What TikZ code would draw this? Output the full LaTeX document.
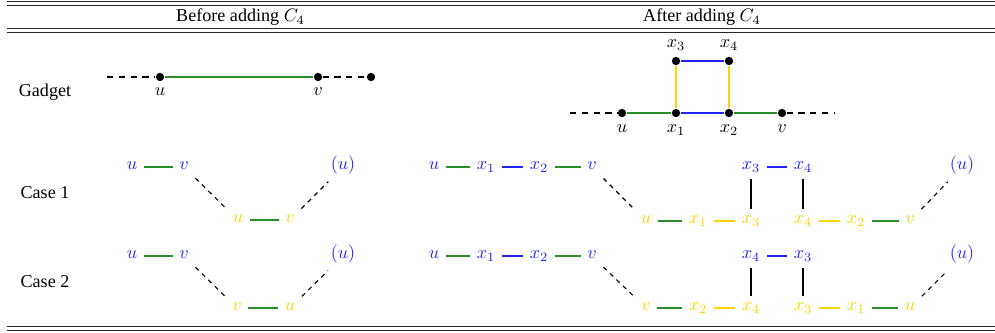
\documentclass[tikz,border=0pt]{standalone}
\usepackage[no-math]{fontspec}
\setmainfont{Liberation Serif}
\definecolor{mygreen}{RGB}{40,140,40}
\definecolor{myblue}{RGB}{35,35,245}
\definecolor{myyellow}{RGB}{255,212,0}
\begin{document}
\begin{tikzpicture}[x=0.5525pt,y=-0.5525pt,
  rule/.style={line width=0.5pt,black!85},
  dot/.style={circle,fill=black,inner sep=0pt,minimum size=4.6pt},
  tn/.style={inner sep=3.5pt,text height=4.4pt,text depth=1.6pt},
  bl/.style={tn,text=myblue},
  yl/.style={tn,text=myyellow},
  txt/.style={anchor=base,inner sep=0pt},
  ge/.style={draw=mygreen,line width=1pt},
  be/.style={draw=myblue,line width=1pt},
  ye/.style={draw=myyellow,line width=1pt},
  ke/.style={draw=black,line width=0.6pt},
  de/.style={draw=black,line width=0.6pt,dash pattern=on 3.5pt off 3pt},
  dd/.style={draw=black,line width=0.6pt,dash pattern=on 2.5pt off 2.5pt}]
\useasboundingbox (0,0) rectangle (995,332);
% table rules
\draw[rule] (7,1.4) -- (995,1.4);
\draw[rule] (7,5) -- (995,5);
\draw[rule] (7,28.4) -- (995,28.4);
\draw[rule] (7,32.2) -- (995,32.2);
\draw[rule] (7,326) -- (995,326);
\draw[rule] (7,330) -- (995,330);
% headers and row labels
\node[txt] (h1) at (240.5,21.7) {Before adding $C_4$};
\node[txt] (h2) at (702,21.7) {After adding $C_4$};
\node[txt] (r1) at (45,96) {Gadget};
\node[txt] (r2) at (45,198.3) {Case 1};
\node[txt] (r3) at (45,287.3) {Case 2};
% gadget before
\coordinate (gl) at (107,77);
\node[dot] (gu) at (160,77) {};
\node[dot] (gv) at (318,77) {};
\node[dot] (gr) at (371,77) {};
\draw[de] (gl) -- (gu);
\draw[ge] (gu) -- (gv);
\draw[de] (gv) -- (gr);
\node[tn] (gul) at (160,93) {$u$};
\node[tn] (gvl) at (318,93) {$v$};
% gadget after
\coordinate (al) at (570,113);
\coordinate (ar) at (834,113);
\node[dot] (au) at (622,113) {};
\node[dot] (ax1) at (676,113) {};
\node[dot] (ax2) at (729,113) {};
\node[dot] (av) at (782,113) {};
\node[dot] (ax3) at (676,61) {};
\node[dot] (ax4) at (729,61) {};
\draw[de] (al) -- (au);
\draw[de] (av) -- (ar);
\draw[ge] (au) -- (ax1);
\draw[be] (ax1) -- (ax2);
\draw[ge] (ax2) -- (av);
\draw[be] (ax3) -- (ax4);
\draw[ye] (ax1) -- (ax3);
\draw[ye] (ax2) -- (ax4);
\node[tn] (aul) at (622,130) {$u$};
\node[tn] (ax1l) at (676,130) {$x_1$};
\node[tn] (ax2l) at (729,130) {$x_2$};
\node[tn] (avl) at (782,130) {$v$};
\node[tn] (ax3l) at (676,45) {$x_3$};
\node[tn] (ax4l) at (729,45) {$x_4$};
% case 1 before
\node[bl] (a1u) at (132,167) {$u$};
\node[bl] (a1v) at (184,167) {$v$};
\node[bl] (a1p) at (343,167) {$(u)$};
\node[yl] (b1u) at (238,220) {$u$};
\node[yl] (b1v) at (290,220) {$v$};
\draw[ge] (a1u) -- (a1v);
\draw[ge] (b1u) -- (b1v);
\draw[dd] (a1v) -- (b1u);
\draw[dd,shorten >=2pt] (b1v) -- (a1p);
% case 2 before
\node[bl] (a2u) at (132,256) {$u$};
\node[bl] (a2v) at (184,256) {$v$};
\node[bl] (a2p) at (343,256) {$(u)$};
\node[yl] (b2v) at (237,308) {$v$};
\node[yl] (b2u) at (290,308) {$u$};
\draw[ge] (a2u) -- (a2v);
\draw[ge] (b2v) -- (b2u);
\draw[dd] (a2v) -- (b2v);
\draw[dd,shorten >=2pt] (b2u) -- (a2p);
% case 1 after
\node[bl] (c1u) at (434,167) {$u$};
\node[bl] (c1x1) at (486,167) {$x_1$};
\node[bl] (c1x2) at (539,167) {$x_2$};
\node[bl] (c1v) at (592,167) {$v$};
\node[bl] (c1x3) at (751,167) {$x_3$};
\node[bl] (c1x4) at (803,167) {$x_4$};
\node[bl] (c1p) at (962,167) {$(u)$};
\node[yl] (d1u) at (646,221) {$u$};
\node[yl] (d1x1) at (698,221) {$x_1$};
\node[yl] (d1x3) at (751,221) {$x_3$};
\node[yl] (d1x4) at (803,221) {$x_4$};
\node[yl] (d1x2) at (856,221) {$x_2$};
\node[yl] (d1v) at (910,221) {$v$};
\draw[ge] (c1u) -- (c1x1);
\draw[be] (c1x1) -- (c1x2);
\draw[ge] (c1x2) -- (c1v);
\draw[be] (c1x3) -- (c1x4);
\draw[ge] (d1u) -- (d1x1);
\draw[ye] (d1x1) -- (d1x3);
\draw[ye] (d1x4) -- (d1x2);
\draw[ge] (d1x2) -- (d1v);
\draw[ke] (c1x3) -- (d1x3);
\draw[ke] (c1x4) -- (d1x4);
\draw[dd] (c1v) -- (d1u);
\draw[dd,shorten >=2pt] (d1v) -- (c1p);
% case 2 after
\node[bl] (c2u) at (434,256) {$u$};
\node[bl] (c2x1) at (486,256) {$x_1$};
\node[bl] (c2x2) at (539,256) {$x_2$};
\node[bl] (c2v) at (592,256) {$v$};
\node[bl] (c2x4) at (751,256) {$x_4$};
\node[bl] (c2x3) at (803,256) {$x_3$};
\node[bl] (c2p) at (962,256) {$(u)$};
\node[yl] (d2v) at (646,308) {$v$};
\node[yl] (d2x2) at (698,308) {$x_2$};
\node[yl] (d2x4) at (751,308) {$x_4$};
\node[yl] (d2x3) at (803,308) {$x_3$};
\node[yl] (d2x1) at (856,308) {$x_1$};
\node[yl] (d2u) at (910,308) {$u$};
\draw[ge] (c2u) -- (c2x1);
\draw[be] (c2x1) -- (c2x2);
\draw[ge] (c2x2) -- (c2v);
\draw[be] (c2x4) -- (c2x3);
\draw[ge] (d2v) -- (d2x2);
\draw[ye] (d2x2) -- (d2x4);
\draw[ye] (d2x3) -- (d2x1);
\draw[ge] (d2x1) -- (d2u);
\draw[ke] (c2x4) -- (d2x4);
\draw[ke] (c2x3) -- (d2x3);
\draw[dd] (c2v) -- (d2v);
\draw[dd,shorten >=2pt] (d2u) -- (c2p);
\end{tikzpicture}
\end{document}
